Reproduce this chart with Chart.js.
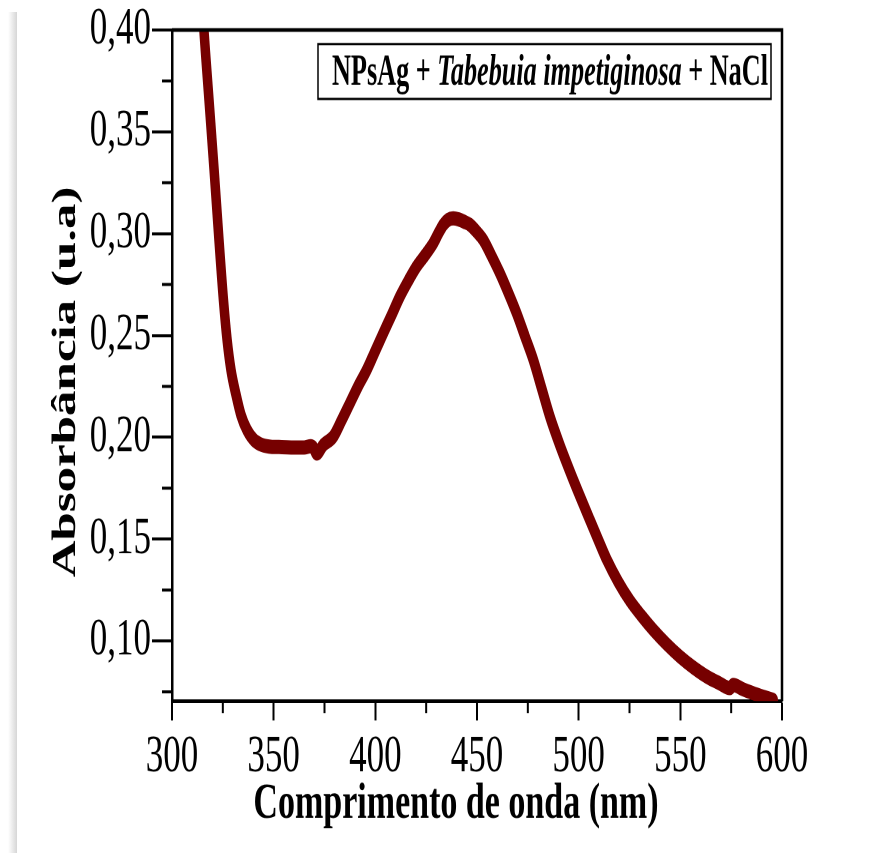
<!DOCTYPE html>
<html>
<head>
<meta charset="utf-8">
<title>Absorbância NPsAg</title>
<script src="https://cdn.jsdelivr.net/npm/chart.js@4.4.0/dist/chart.umd.min.js"></script>
<style>
  html, body { margin: 0; padding: 0; background: #fff; }
  #wrap { position: relative; width: 893px; height: 853px; overflow: hidden; }
  #shade { position: absolute; left: 8px; top: 12px; width: 9px; height: 841px;
           background: linear-gradient(to right, rgba(0,0,0,0), rgba(0,0,0,0.16)); }
  /* the original figure is stretched vertically, so the canvas is too */
  #stretch { position: absolute; left: 0; top: 0; transform: scaleY(1.49912); transform-origin: 0 0; }
</style>
</head>
<body>
<div id="wrap">
  <div id="shade"></div>
  <div id="stretch"><canvas id="chart" width="893" height="569"></canvas></div>
</div>
<script>
// values
const wavelength = [315.4, 315.7, 318.2, 320.7, 323.1, 325.3, 327.1, 329.0, 331.5, 333.9,
  336.9, 340.3, 344.3, 349.2, 354.0, 360.0, 365.0, 368.2,
  369.5, 371.2, 374.4, 379.3, 383.5, 387.5, 391.5, 395.8, 399.8, 403.9,
  408.0, 412.1, 416.2, 420.3, 424.5, 428.5, 431.2, 433.4, 435.8, 438.3,
  441.0, 443.8, 446.6, 449.8, 453.1, 457.2, 461.3, 465.4, 469.5, 473.6,
  477.7, 481.8, 485.9, 490.8, 497.4, 501.5, 505.6, 509.7, 513.8, 519.5,
  525.2, 531.0, 536.7, 543.2, 549.8, 556.4, 563.0, 568.7, 574.4, 576.0,
  580.9, 585.9, 590.8, 595.7];
const absorbance = [0.405, 0.400, 0.3656, 0.3313, 0.2969, 0.2674, 0.2478, 0.2331, 0.2208, 0.2110,
  0.2036, 0.1987, 0.1962, 0.1953, 0.1952, 0.1950, 0.1950, 0.1956,
  0.1950, 0.1920, 0.1962, 0.2003, 0.2085, 0.2167, 0.2250, 0.2331, 0.2420, 0.2511,
  0.2600, 0.2691, 0.2768, 0.2838, 0.2895, 0.2953, 0.3005, 0.3043, 0.3068, 0.3075,
  0.3070, 0.3058, 0.3043, 0.3010, 0.2969, 0.2890, 0.2805, 0.2710, 0.2609, 0.2495,
  0.2380, 0.2240, 0.2100, 0.1960, 0.1790, 0.1690, 0.1592, 0.1495, 0.1400, 0.1290,
  0.1198, 0.1122, 0.1054, 0.0985, 0.0923, 0.0870, 0.0825, 0.0795, 0.0768, 0.0784,
  0.0762, 0.0743, 0.0726, 0.0710];

const xTicks = [300, 350, 400, 450, 500, 550, 600];
const xMinorTicks = [325, 375, 425, 475, 525, 575];
const yTicks = [0.10, 0.15, 0.20, 0.25, 0.30, 0.35, 0.40];
const yMinorTicks = [0.075, 0.125, 0.175, 0.225, 0.275, 0.325, 0.375];

const xTitle = "Comprimento de onda (nm)";
const yTitle = "Absorbância (u.a)";
const legendParts = [
  { text: "NPsAg + ", font: 'bold 30px "Liberation Serif"' },
  { text: "Tabebuia impetiginosa", font: 'italic bold 30px "Liberation Serif"' },
  { text: " + NaCl", font: 'bold 30px "Liberation Serif"' }
];

const serif = '"Liberation Serif", "Times New Roman", serif';

// frame, minor ticks, titles and the label box
const decor = {
  id: 'decor',
  afterDraw(chart) {
    const ctx = chart.ctx;
    const a = chart.chartArea;
    const x = chart.scales.x, y = chart.scales.y;
    ctx.save();
    ctx.strokeStyle = '#000';
    ctx.lineWidth = 2.5;
    ctx.beginPath();
    ctx.moveTo(a.left, a.top);
    ctx.lineTo(a.right, a.top);
    ctx.lineTo(a.right, a.bottom);
    ctx.stroke();

    ctx.lineWidth = 2;
    ctx.beginPath();
    xMinorTicks.forEach(v => {
      const px = x.getPixelForValue(v);
      ctx.moveTo(px, a.bottom);
      ctx.lineTo(px, a.bottom + 8);
    });
    yMinorTicks.forEach(v => {
      const py = y.getPixelForValue(v);
      ctx.moveTo(a.left, py);
      ctx.lineTo(a.left - 10, py);
    });
    ctx.stroke();

    ctx.fillStyle = '#000';
    ctx.font = 'bold 34px ' + serif;
    ctx.textAlign = 'center';
    ctx.textBaseline = 'alphabetic';
    ctx.fillText(xTitle, a.left + 284, a.bottom + 78);

    ctx.save();
    ctx.translate(75, (a.top + a.bottom) / 2 + 11);
    ctx.rotate(-Math.PI / 2);
    ctx.fillText(yTitle, 0, 0);
    ctx.restore();

    // label box
    const bx = a.left + 146, by = a.top + 9.4;
    const bw = (a.right - 11) - bx, bh = 36.6;
    ctx.lineWidth = 1.5;
    ctx.strokeRect(bx, by, bw, bh);

    let total = 0;
    legendParts.forEach(p => { ctx.font = p.font; total += ctx.measureText(p.text).width; });
    const k = 436 / total;
    ctx.save();
    ctx.translate(bx + 14, a.top + 36.7);
    ctx.scale(k, 1);
    ctx.textAlign = 'left';
    let cx = 0;
    legendParts.forEach(p => {
      ctx.font = p.font;
      ctx.fillText(p.text, cx, 0);
      cx += ctx.measureText(p.text).width;
    });
    ctx.restore();
    ctx.restore();
  }
};

const ctx = document.getElementById('chart').getContext('2d');
new Chart(ctx, {
  type: 'line',
  data: {
    datasets: [{
      label: 'NPsAg + Tabebuia impetiginosa + NaCl',
      data: wavelength.map((w, i) => ({ x: w, y: absorbance[i] })),
      borderColor: '#760000',
      borderWidth: 9.5,
      pointRadius: 0,
      cubicInterpolationMode: 'monotone',
      borderJoinStyle: 'round',
      borderCapStyle: 'round',
      clip: 0
    }]
  },
  options: {
    responsive: false,
    devicePixelRatio: 2,
    animation: false,
    layout: { padding: { top: 20, right: 111, left: 0, bottom: 0 } },
    plugins: { legend: { display: false }, tooltip: { enabled: false } },
    scales: {
      x: {
        type: 'linear',
        min: 300,
        max: 600,
        afterBuildTicks: axis => { axis.ticks = xTicks.map(v => ({ value: v })); },
        afterFit: axis => { axis.height = 101.4; },
        grid: { drawOnChartArea: false, tickLength: 13, tickWidth: 2, tickColor: '#000' },
        border: { color: '#000', width: 2.5 },
        ticks: {
          color: '#000',
          padding: 7,
          maxRotation: 0,
          font: { family: serif, size: 35, lineHeight: 1 }
        }
      },
      y: {
        min: 0.0705,
        max: 0.40,
        afterBuildTicks: axis => { axis.ticks = yTicks.map(v => ({ value: v })); },
        afterFit: axis => { axis.width = 172; },
        grid: { drawOnChartArea: false, tickLength: 20, tickWidth: 2, tickColor: '#000' },
        border: { color: '#000', width: 2.5 },
        ticks: {
          color: '#000',
          padding: 1,
          font: { family: serif, size: 35, lineHeight: 1 },
          callback: v => v.toFixed(2).replace('.', ',')
        }
      }
    }
  },
  plugins: [decor]
});
</script>
</body>
</html>
